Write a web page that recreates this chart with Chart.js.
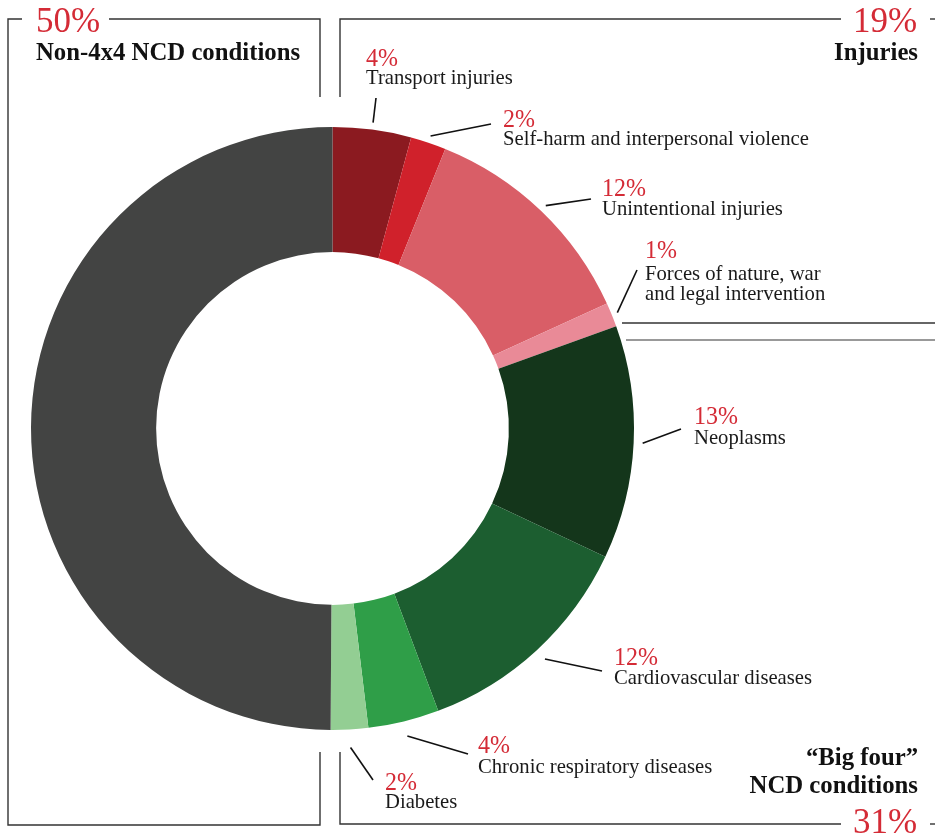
<!DOCTYPE html>
<html>
<head>
<meta charset="utf-8">
<script src="https://cdn.jsdelivr.net/npm/chart.js@4/dist/chart.umd.min.js"></script>
<style>
html,body{margin:0;padding:0;background:#fff;}
#c{display:block;}
</style>
</head>
<body>
<canvas id="c" width="935" height="838"></canvas>
<script>
// ---- data ----
const categories = ["Transport injuries", "Self-harm and interpersonal violence", "Unintentional injuries",
  "Forces of nature, war|and legal intervention", "Neoplasms", "Cardiovascular diseases",
  "Chronic respiratory diseases", "Diabetes", "Non-4x4 NCD conditions"];
const values = [4.2, 1.9, 12.1, 1.3, 12.5, 12.3, 3.8, 2.0, 49.9];
const pctLabels = ["4%", "2%", "12%", "1%", "13%", "12%", "4%", "2%", ""];
const groupNames = ["Non-4x4 NCD conditions", "Injuries", "\u201cBig four\u201d|NCD conditions"];
const groupPcts = ["50%", "19%", "31%"];

// ---- styles / layout ----
const colors = ["#8B1A20", "#D0212B", "#D95E67", "#E98A97", "#14361B", "#1C5E30", "#2F9E48", "#93CE93", "#434443"];
const RED = "#D42B36";
// label layout: [leaderGap, endX, endY, textX, pctBaseline, labelBaseline]
const labelLayout = [
  [7, 376, 98, 366, 66, 84],
  [7, 491, 124, 503, 127, 145],
  [7, 591, 199, 602, 196, 215],
  [6, 637, 270, 645, 258, 280],
  [9, 681, 429, 694, 424, 444],
  [12, 602, 671, 614, 665, 684],
  [15, 468, 754, 478, 753, 773],
  [18, 373, 780, 385, 790, 808]
];
const FAMILY = '"Liberation Serif", "DejaVu Serif", serif';

function fitSize(ctx, text, weight, target) {
  ctx.font = weight + ' 100px ' + FAMILY;
  return 100 * target / ctx.measureText(text).width;
}
function xScaleFor(ctx, text, font, target) {
  ctx.font = font;
  return target / ctx.measureText(text).width;
}
function drawScaled(ctx, text, x, y, align, font, sx) {
  ctx.save();
  ctx.font = font;
  ctx.textAlign = align;
  ctx.translate(x, y);
  ctx.scale(sx, 1);
  ctx.fillText(text, 0, 0);
  ctx.restore();
}

const annot = {
  id: 'annot',
  afterDraw(chart) {
    const ctx = chart.ctx;
    const meta = chart.getDatasetMeta(0);
    ctx.save();
    const labelSize = fitSize(ctx, "Self-harm and interpersonal violence", "normal", 306);
    const headSize = fitSize(ctx, "Non-4x4 NCD conditions", "bold", 264);
    const pctFont = "normal 26px " + FAMILY;
    const pctSX = xScaleFor(ctx, "12%", pctFont, 44);
    const bigFont = "normal 36px " + FAMILY;
    const bigSX = xScaleFor(ctx, "50%", bigFont, 64);

    // frames
    ctx.lineWidth = 1.4;
    const seg = (pts, col) => {
      ctx.strokeStyle = col || "#333";
      ctx.beginPath();
      ctx.moveTo(pts[0], pts[1]);
      for (let i = 2; i < pts.length; i += 2) ctx.lineTo(pts[i], pts[i + 1]);
      ctx.stroke();
    };
    // left box
    seg([22, 19, 8, 19, 8, 825, 320, 825, 320, 752]);
    seg([109, 19, 320, 19, 320, 97]);
    // injuries box
    seg([340, 97, 340, 19, 841, 19]);
    seg([930, 19, 935, 19]);
    seg([622, 323, 935, 323]);
    // big four box
    seg([626, 340, 935, 340], "#777");
    seg([340, 752, 340, 824, 841, 824]);
    seg([930, 824, 935, 824]);

    // group texts
    ctx.textBaseline = "alphabetic";
    ctx.fillStyle = RED;
    drawScaled(ctx, groupPcts[0], 36, 32, "left", bigFont, bigSX);
    drawScaled(ctx, groupPcts[1], 917, 32, "right", bigFont, bigSX);
    drawScaled(ctx, groupPcts[2], 917, 833, "right", bigFont, bigSX);

    ctx.fillStyle = "#111";
    ctx.font = "bold " + headSize.toFixed(2) + "px " + FAMILY;
    ctx.textAlign = "left";
    ctx.fillText(groupNames[0], 36, 60);
    ctx.textAlign = "right";
    ctx.fillText(groupNames[1], 918, 60);
    const bf = groupNames[2].split("|");
    ctx.fillText(bf[0], 918, 765);
    ctx.fillText(bf[1], 918, 793);

    // segment labels + leaders
    ctx.lineWidth = 1.6;
    ctx.strokeStyle = "#111";
    labelLayout.forEach((L, i) => {
      const arc = meta.data[i];
      const mid = (arc.startAngle + arc.endAngle) / 2;
      const r = arc.outerRadius + L[0];
      const sx = arc.x + Math.cos(mid) * r;
      const sy = arc.y + Math.sin(mid) * r;
      ctx.beginPath();
      ctx.moveTo(sx, sy);
      ctx.lineTo(L[1], L[2]);
      ctx.stroke();

      ctx.fillStyle = RED;
      drawScaled(ctx, pctLabels[i], L[3], L[4], "left", pctFont, pctSX);
      ctx.fillStyle = "#1a1a1a";
      ctx.textAlign = "left";
      ctx.font = "normal " + labelSize.toFixed(2) + "px " + FAMILY;
      const lines = categories[i].split("|");
      lines.forEach((t, k) => ctx.fillText(t, L[3], L[5] + k * 20));
    });
    ctx.restore();
  }
};

new Chart(document.getElementById('c'), {
  type: 'doughnut',
  data: {
    labels: categories.map(c => c.replace("|", " ")),
    datasets: [{
      data: values,
      backgroundColor: colors,
      borderWidth: 0,
      hoverOffset: 0
    }]
  },
  options: {
    responsive: false,
    animation: false,
    cutout: '58.5%',
    layout: { padding: { left: 31, top: 127, right: 301, bottom: 108 } },
    plugins: { legend: { display: false }, tooltip: { enabled: false } },
    events: []
  },
  plugins: [annot]
});
</script>
</body>
</html>
